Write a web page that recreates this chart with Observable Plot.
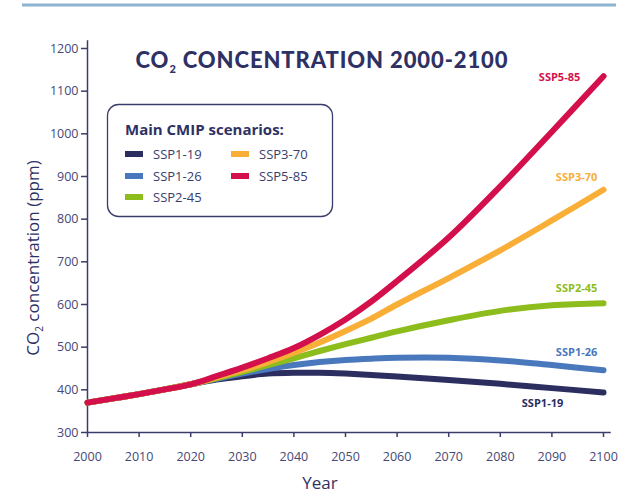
<!DOCTYPE html>
<html><head><meta charset="utf-8">
<script src="https://cdn.jsdelivr.net/npm/d3@7"></script>
<script src="https://cdn.jsdelivr.net/npm/@observablehq/plot@0.6"></script>
<style>body{margin:0;background:#fff;} #chart svg{display:block;}</style>
</head><body><div id="chart"></div>
<script>
// ---- data ----
const years = [2000, 2005, 2010, 2015, 2020, 2025, 2030, 2035, 2040, 2045, 2050, 2055, 2060, 2070, 2080, 2090, 2100];
const history = [370, 380, 390, 401, 413];
const ssp119 = [424, 432, 438, 440, 440, 438, 435, 431, 423, 414, 404, 394];
const ssp126 = [426, 438, 449, 458, 465, 470, 473, 475, 475, 469, 458, 446];
const ssp245 = [427, 442, 458, 474, 491, 507, 522, 537, 563, 585, 598, 603];
const ssp370 = [429, 446, 465, 487, 511, 538, 567, 600, 662, 727, 797, 869];
const ssp585 = [432, 452, 474, 498, 529, 565, 607, 655, 757, 877, 1005, 1135];
const scenarios = ["SSP1-19", "SSP1-26", "SSP2-45", "SSP3-70", "SSP5-85"];
const colors = ["#2b2e5f", "#4a78bd", "#8cbd1c", "#f8ae37", "#d4104c"];
const xTicks = [2000, 2010, 2020, 2030, 2040, 2050, 2060, 2070, 2080, 2090, 2100];
const yTicks = [300, 400, 500, 600, 700, 800, 900, 1000, 1100, 1200];
// end-label anchor positions (year, ppm)
const labelYear = [2092.2, 2098.8, 2098.8, 2098.8, 2095.5];
const labelPpm = [368, 487, 637, 898, 1132];

const seriesValues = [ssp119, ssp126, ssp245, ssp370, ssp585];
const rows = scenarios.map((s, i) =>
  years.map((y, j) => ({scenario: s, year: y, value: j < history.length ? history[j] : seriesValues[i][j - history.length]}))
);
const labels = scenarios.map((s, i) => ({scenario: s, year: labelYear[i], value: labelPpm[i], color: colors[i]}));

const navy = "#2e3163";
const axisColor = "#3a3c6c";

const plot = Plot.plot({
  width: 632, height: 493,
  marginLeft: 87, marginRight: 29, marginTop: 48, marginBottom: 61,
  style: {fontFamily: "Open Sans", fontSize: "12px", color: "#464876", background: "white", overflow: "visible"},
  x: {domain: [2000, 2100], label: null},
  y: {domain: [300, 1200], label: null},
  marks: [
    Plot.axisX({ticks: xTicks, tickFormat: d => String(d), tickSize: 5, tickPadding: 15, stroke: axisColor, strokeWidth: 1.5, label: null, fontSize: 12.5}),
    Plot.axisY({ticks: yTicks, tickFormat: d => String(d), tickSize: 6, tickPadding: 3, stroke: axisColor, strokeWidth: 1.5, label: null, fontSize: 12.5}),
    Plot.ruleY([300], {x1: 2000, x2: 2101.5, stroke: axisColor, strokeWidth: 1.5}),
    Plot.ruleX([2000], {y1: 300, y2: 1218, stroke: axisColor, strokeWidth: 1.5}),
    ...scenarios.map((s, i) => Plot.line(rows[i], {x: "year", y: "value", stroke: colors[i], strokeWidth: 6, curve: "catmull-rom"})),
    Plot.text(labels, {x: "year", y: "value", text: "scenario", fill: "color", textAnchor: "end", fontWeight: "bold", fontSize: 11, fontFamily: "Open Sans"})
  ]
});
document.getElementById("chart").appendChild(plot);

const svg = d3.select(plot);
// top decorative line
svg.append("line").attr("x1", 22).attr("x2", 616).attr("y1", 5).attr("y2", 5)
  .attr("stroke", "#8db4cf").attr("stroke-width", 3);

// title
const title = svg.append("text").attr("x", 322).attr("y", 68).attr("text-anchor", "middle")
  .attr("fill", navy).attr("font-family", "Lato").attr("font-weight", 900).attr("font-size", 22)
  .attr("letter-spacing", "0.9px");
title.append("tspan").text("CO");
title.append("tspan").attr("font-size", 11).attr("dy", 5).text("2");
title.append("tspan").attr("dy", -5).text(" CONCENTRATION 2000-2100");

// axis titles
svg.append("text").attr("x", 320).attr("y", 489).attr("text-anchor", "middle")
  .attr("fill", navy).attr("font-family", "Open Sans").attr("font-size", 17).text("Year");
const yl = svg.append("text").attr("transform", "translate(39,258) rotate(-90)").attr("text-anchor", "middle")
  .attr("fill", navy).attr("font-family", "Open Sans").attr("font-size", 17);
yl.append("tspan").text("CO");
yl.append("tspan").attr("font-size", 10).attr("dy", 4).text("2");
yl.append("tspan").attr("dy", -4).text(" concentration (ppm)");

// legend box
const lg = svg.append("g").attr("text-anchor", "start");
lg.append("rect").attr("x", 107.5).attr("y", 104.5).attr("width", 225).attr("height", 112).attr("rx", 11)
  .attr("fill", "white").attr("stroke", axisColor).attr("stroke-width", 1.3);
lg.append("text").attr("x", 125).attr("y", 135).attr("fill", navy).attr("font-family", "Open Sans")
  .attr("font-weight", "bold").attr("font-size", 15).text("Main CMIP scenarios:");
const pos = [[125, 154], [125, 176], [125, 197], [231, 154], [231, 176]];
scenarios.forEach((s, i) => {
  const [px, py] = pos[i];
  lg.append("rect").attr("x", px).attr("y", py - 3).attr("width", 18).attr("height", 6).attr("fill", colors[i]);
  lg.append("text").attr("x", px + 28).attr("y", py + 5).attr("fill", "#3a3c6e").attr("font-family", "Open Sans")
    .attr("font-size", 13).text(s);
});
</script>
</body></html>
